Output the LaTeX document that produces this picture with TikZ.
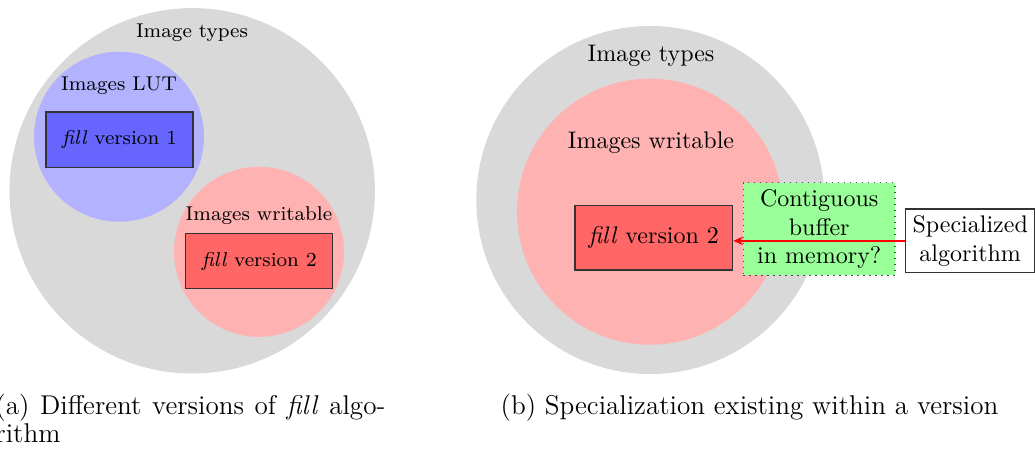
\documentclass[tikz,border=0pt]{standalone}
\usetikzlibrary{arrows.meta}
\tikzset{
  txtA/.style={font=\fontsize{8.3}{10}\selectfont, inner sep=0pt},
  boxA/.style={draw=black!80, line width=0.5pt, minimum width=61.2pt, minimum height=23pt, inner sep=0pt, font=\fontsize{8.3}{10}\selectfont},
  txtB/.style={font=\fontsize{10}{12}\selectfont, inner sep=0pt},
  boxB/.style={draw=black!80, line width=0.5pt, minimum width=65.7pt, minimum height=26.8pt, inner sep=0pt, font=\fontsize{10}{12}\selectfont},
  greenbox/.style={draw=black!70, dotted, line width=0.5pt, fill=green!40, minimum width=63.2pt, minimum height=38.6pt, inner sep=0pt, align=center, font=\fontsize{10}{12}\selectfont},
  whitebox/.style={draw=black!80, line width=0.5pt, fill=white, minimum width=53.7pt, minimum height=26.5pt, inner sep=0pt, align=center, font=\fontsize{10}{12}\selectfont},
  captxt/.style={font=\fontsize{11.3}{11.8}\selectfont, inner sep=0pt},
  arr/.style={red, line width=0.6pt, -{Stealth[length=4pt,width=3.5pt]}}
}
\begin{document}
\begin{tikzpicture}[x=0.4165pt,y=-0.4165pt]
\useasboundingbox (0,0) rectangle (1035,448);
% left panel
\fill[black!15] (192.2,190.8) circle[radius=182.7];
\fill[blue!30] (119,136.7) circle[radius=85];
\fill[red!30] (259,251.8) circle[radius=85];
\node[txtA,anchor=base] (ta) at (192,37.7) {Image types};
\node[txtA,anchor=base] (lut) at (119,90) {Images LUT};
\node[boxA,fill=blue!60] (f1) at (119.5,139.7) {\emph{fill} version 1};
\node[txtA,anchor=base] (wa) at (259,220.7) {Images writable};
\node[boxA,fill=red!60] (f2a) at (259.2,261.2) {\emph{fill} version 2};
\node[captxt,anchor=base west] (capa1) at (-5,414) {\makebox[162.4pt][s]{(a) Different versions of \emph{fill} algo-}};
\node[captxt,anchor=base west] (capa2) at (-5,442.5) {rithm};
% right panel
\fill[black!15] (650.3,200) circle[radius=174];
\fill[red!30] (650,211.7) circle[radius=133];
\node[txtB,anchor=base] (tb) at (651,61.7) {Image types};
\node[txtB,anchor=base] (wb) at (651,148.3) {Images writable};
\node[boxB,fill=red!60] (f2b) at (653.8,237.8) {\emph{fill} version 2};
\node[greenbox] (cont) at (819.2,229) {Contiguous\\buffer\\in memory?};
\node[whitebox] (spec) at (970.2,240.85) {Specialized\\algorithm};
\draw[arr] (spec.west) -- (spec.west -| f2b.east);
\node[captxt,anchor=base] (capb) at (749.5,414) {(b) Specialization existing within a version};
\end{tikzpicture}
\end{document}
